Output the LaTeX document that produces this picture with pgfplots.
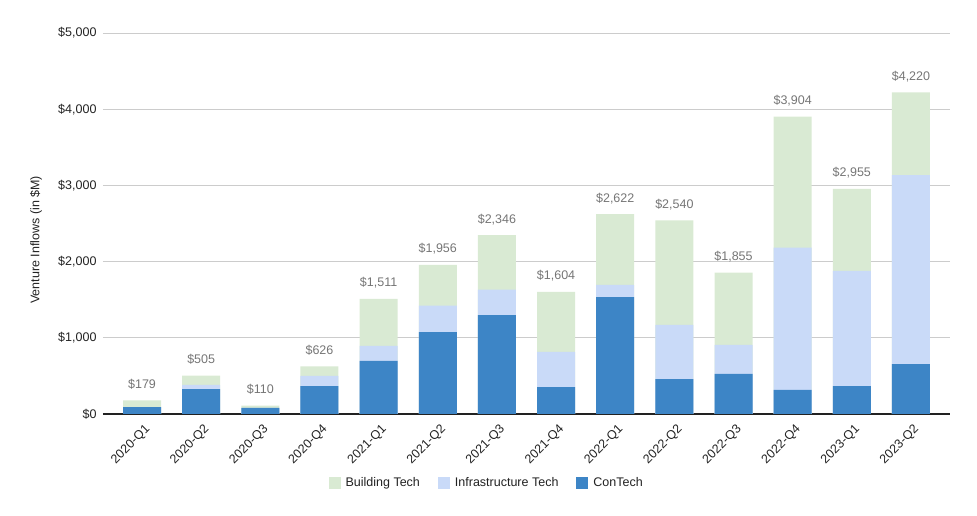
\documentclass[border=0pt]{standalone}
\usepackage{fontspec}
\setmainfont{Liberation Sans}
\usepackage{pgfplots}
\pgfplotsset{compat=1.18}
\usepackage{pgfplotstable}
\definecolor{contech}{HTML}{3D85C6}
\definecolor{infra}{HTML}{C9DAF8}
\definecolor{build}{HTML}{D9EAD3}
\definecolor{gridc}{HTML}{CCCCCC}
\definecolor{lbl}{HTML}{757575}
\definecolor{txt}{HTML}{222222}
% con = ConTech, ci = ConTech + Infrastructure Tech, tot = all three (stack tops)
\pgfplotstableread{
x con ci tot
0 90 90 179
1 328 381 505
2 79 79 110
3 367 499 626
4 698 894 1511
5 1076 1421 1956
6 1299 1632 2346
7 354 814 1604
8 1535 1693 2622
9 459 1168 2540
10 525 906 1855
11 315 2183 3904
12 367 1877 2955
13 656 3136 4220
}\data
\newcommand\fs{\fontsize{12.5}{14}\selectfont}
\begin{document}
\begin{tikzpicture}[x=1pt,y=1pt]
\useasboundingbox (0,0) rectangle (977,516);
\begin{axis}[
  at={(103pt,102pt)}, anchor=south west,
  width=847pt, height=381pt, scale only axis,
  ybar, bar width=38pt, bar shift=0pt,
  xmin=-0.66, xmax=13.66, ymin=0, ymax=5000,
  ytick={0,1000,...,5000},
  scaled y ticks=false,
  /pgf/number format/.cd, 1000 sep={,}, assume math mode=true, /pgfplots/.cd,
  yticklabel={\$\pgfmathprintnumber{\tick}},
  xtick={0,...,13},
  xticklabels={2020-Q1,2020-Q2,2020-Q3,2020-Q4,2021-Q1,2021-Q2,2021-Q3,2021-Q4,2022-Q1,2022-Q2,2022-Q3,2022-Q4,2023-Q1,2023-Q2},
  x tick label style={xshift=2pt, yshift=-8pt, rotate=45, anchor=north east, font=\fs, text=txt, inner sep=1pt},
  y tick label style={font=\fs, text=txt, xshift=-3pt},
  major tick length=0pt,
  ymajorgrids, grid style={draw=gridc, line width=0.8pt},
  axis x line*=bottom, axis y line*=left,
  x axis line style={draw=txt, line width=1.2pt, -},
  y axis line style={draw=none},
  ylabel={Venture Inflows (in \$M)},
  ylabel style={at={(axis description cs:-0.079,0.457)}, anchor=center, font=\fs, text=txt},
  legend style={at={(0.453,-0.181)}, anchor=center, draw=none, font=\fs, text=txt, legend columns=-1,
    /tikz/every odd column/.append style={column sep=3pt},
    /tikz/every even column/.append style={column sep=16pt}},
  legend image code/.code={\fill[#1] (0pt,-6pt) rectangle (12pt,6pt);},
]
\addplot[fill=build, draw=none, point meta=explicit,
  nodes near coords={\$\pgfmathprintnumber{\pgfplotspointmeta}},
  nodes near coords style={text=lbl, font=\fs, anchor=base, inner sep=0pt, yshift=12pt}]
  table[x=x,y=tot,meta=tot] \data;
\addplot[fill=infra, draw=none] table[x=x,y=ci] \data;
\addplot[fill=contech, draw=none] table[x=x,y=con] \data;
\legend{Building Tech, Infrastructure Tech, ConTech}
\end{axis}
\end{tikzpicture}
\end{document}
